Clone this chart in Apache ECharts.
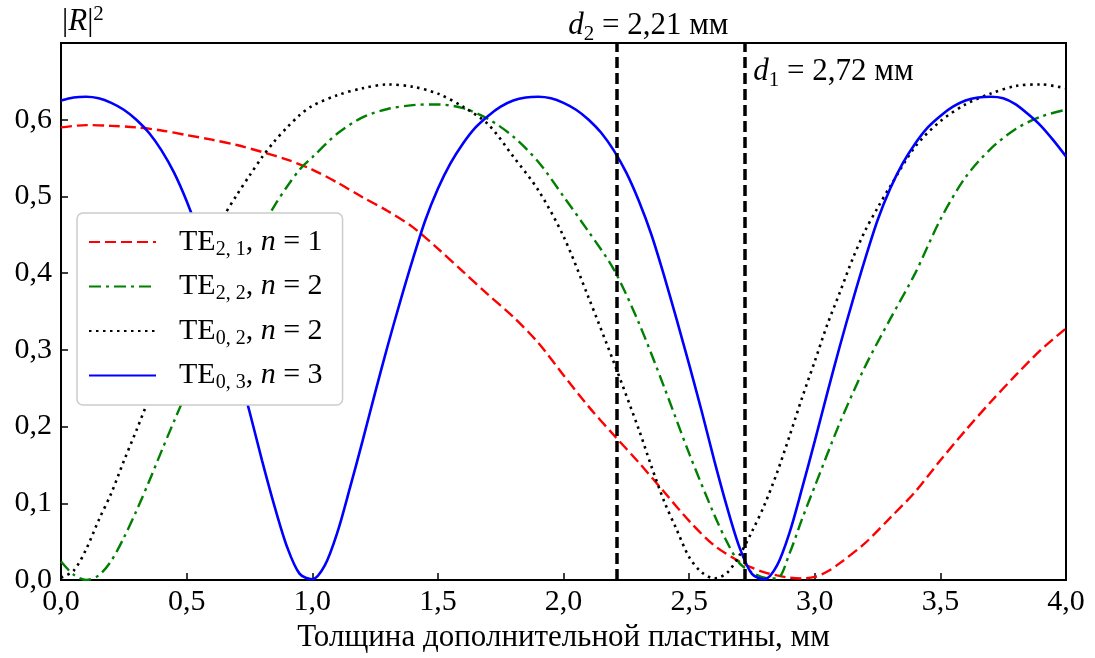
<!DOCTYPE html>
<html><head><meta charset="utf-8">
<script src="https://cdn.jsdelivr.net/npm/echarts@6/dist/echarts.min.js"></script>
<style>html,body{margin:0;padding:0;background:#fff}#c{width:1095px;height:658px}</style>
</head><body><div id="c"></div>
<script>
// ---- data ----
var redX = [0,0.1,0.2,0.3,0.4,0.5,0.6,0.7,0.8,0.9,1.0,1.1,1.2,1.3,1.4,1.5,1.6,1.7,1.8,1.9,2.0,2.1,2.2,2.3,2.4,2.5,2.6,2.7,2.75,2.8,2.85,2.9,2.95,3.0,3.05,3.1,3.2,3.3,3.4,3.5,3.6,3.7,3.8,3.9,4.0];
var redY = [0.590,0.593,0.592,0.590,0.586,0.580,0.574,0.567,0.558,0.548,0.535,0.518,0.499,0.481,0.460,0.432,0.402,0.372,0.343,0.309,0.267,0.226,0.189,0.153,0.115,0.077,0.045,0.024,0.016,0.010,0.006,0.003,0.002,0.004,0.011,0.022,0.048,0.081,0.115,0.156,0.195,0.232,0.267,0.300,0.328];

var greenX = [0,0.05,0.1,0.15,0.2,0.25,0.3,0.35,0.4,0.45,0.5,0.55,0.6,0.65,0.7,0.75,0.8,0.85,0.9,0.95,1.0,1.1,1.2,1.3,1.4,1.5,1.6,1.7,1.8,1.9,2.0,2.1,2.2,2.3,2.4,2.5,2.6,2.65,2.7,2.75,2.8,2.85,2.9,2.95,3.0,3.1,3.2,3.3,3.4,3.5,3.6,3.7,3.8,3.9,4.0];
var greenY = [0.024,0.007,0.000,0.006,0.025,0.055,0.090,0.128,0.168,0.207,0.245,0.282,0.318,0.355,0.390,0.425,0.460,0.488,0.513,0.535,0.551,0.582,0.603,0.614,0.619,0.620,0.615,0.601,0.578,0.545,0.500,0.454,0.405,0.335,0.252,0.165,0.085,0.050,0.022,0.010,0.003,0.002,0.035,0.080,0.122,0.205,0.278,0.340,0.400,0.470,0.525,0.562,0.588,0.604,0.613];

var blackX = [0,0.05,0.1,0.15,0.2,0.25,0.3,0.35,0.4,0.45,0.5,0.55,0.6,0.65,0.7,0.75,0.8,0.85,0.9,0.95,1.0,1.1,1.2,1.3,1.4,1.5,1.6,1.7,1.8,1.9,2.0,2.1,2.2,2.3,2.35,2.4,2.45,2.5,2.55,2.6,2.65,2.7,2.75,2.8,2.85,2.9,2.95,3.0,3.05,3.1,3.15,3.2,3.25,3.3,3.4,3.5,3.6,3.7,3.8,3.9,4.0];
var blackY = [0.003,0.012,0.040,0.078,0.113,0.155,0.195,0.236,0.274,0.315,0.355,0.395,0.438,0.475,0.502,0.527,0.551,0.572,0.590,0.606,0.618,0.632,0.641,0.646,0.643,0.634,0.617,0.594,0.552,0.508,0.448,0.368,0.284,0.196,0.148,0.103,0.066,0.030,0.010,0.002,0.009,0.032,0.063,0.098,0.140,0.188,0.238,0.285,0.333,0.375,0.418,0.455,0.485,0.513,0.565,0.598,0.620,0.634,0.644,0.646,0.641];

var blueX = [0,0.05,0.1,0.15,0.2,0.25,0.3,0.35,0.4,0.45,0.5,0.55,0.6,0.65,0.7,0.75,0.8,0.85,0.9,0.95,1.0,1.05,1.1,1.15,1.2,1.25,1.3,1.35,1.4,1.45,1.5,1.55,1.6,1.65,1.7,1.75,1.8,1.85,1.9,1.95,2.0,2.05,2.1,2.15,2.2,2.25,2.3,2.35,2.4,2.45,2.5,2.55,2.6,2.65,2.7,2.75,2.8,2.85,2.9,2.95,3.0,3.05,3.1,3.15,3.2,3.25,3.3,3.35,3.4,3.45,3.5,3.55,3.6,3.65,3.7,3.75,3.8,3.85,3.9,3.95,4.0];
var blueY = [0.625,0.629,0.630,0.628,0.622,0.613,0.600,0.583,0.560,0.531,0.494,0.450,0.397,0.340,0.281,0.220,0.156,0.096,0.043,0.008,0.001,0.019,0.062,0.120,0.181,0.244,0.305,0.363,0.418,0.469,0.510,0.543,0.569,0.590,0.605,0.617,0.625,0.629,0.630,0.628,0.622,0.613,0.600,0.583,0.560,0.531,0.494,0.450,0.397,0.340,0.281,0.220,0.156,0.096,0.043,0.008,0.001,0.019,0.062,0.120,0.181,0.244,0.305,0.363,0.418,0.469,0.510,0.543,0.569,0.590,0.605,0.617,0.625,0.629,0.630,0.628,0.620,0.607,0.592,0.573,0.552];

var modeSubs = ['2, 1', '2, 2', '0, 2', '0, 3'];
var modeN = ['1', '2', '2', '3'];
var seriesNames = ['TE21', 'TE22', 'TE02', 'TE03'];
var dValues = [2.21, 2.72];
var dSubs = ['2', '1'];
var dTexts = ['2,21 мм', '2,72 мм'];
var xTicks = [0, 4, 0.5];
var yTicks = [0, 0.7, 0.1];

var FONT = 'Liberation Serif';
function zip(a, b) { return a.map(function (v, i) { return [v, b[i]]; }); }
function comma(v) { return v.toFixed(1).replace('.', ','); }

var legendText = {};
seriesNames.forEach(function (n, i) {
  legendText[n] = '{t|TE}{s|' + modeSubs[i] + '}{m|, }{i|n}{m| = ' + modeN[i] + '}';
});

function dLabel(i, offs) {
  return {
    show: true, position: 'end', distance: 0, offset: offs,
    formatter: '{i|d}{s|' + dSubs[i] + '}{m| = ' + dTexts[i] + '}',
    color: '#000', fontFamily: FONT,
    rich: {
      m: { fontFamily: FONT, fontSize: 31, lineHeight: 38, color: '#000' },
      i: { fontFamily: FONT, fontSize: 31, lineHeight: 38, fontStyle: 'italic', color: '#000' },
      s: { fontFamily: FONT, fontSize: 21, lineHeight: 21, verticalAlign: 'bottom', color: '#000' }
    }
  };
}

var chart = echarts.init(document.getElementById('c'), null, { renderer: 'canvas' });
chart.setOption({
  animation: false,
  backgroundColor: '#fff',
  grid: { left: 61, right: 29, top: 43, bottom: 78, show: true, borderColor: '#000', borderWidth: 2, backgroundColor: 'transparent' },
  xAxis: {
    type: 'value', min: xTicks[0], max: xTicks[1], interval: xTicks[2],
    name: 'Толщина дополнительной пластины, мм', nameLocation: 'middle', nameGap: 42,
    nameTextStyle: { fontFamily: FONT, fontSize: 31, color: '#000' },
    axisLine: { show: true, lineStyle: { color: '#000', width: 2 } },
    axisTick: { show: true, inside: true, length: 7, lineStyle: { color: '#000', width: 1.5 } },
    axisLabel: { fontFamily: FONT, fontSize: 30, color: '#000', margin: 7, formatter: function (v) { return comma(v); } },
    splitLine: { show: false }
  },
  yAxis: {
    type: 'value', min: yTicks[0], max: yTicks[1], interval: yTicks[2],
    name: '{m||}{i|R}{m||}{s|2}', nameLocation: 'end', nameGap: 3,
    nameTextStyle: {
      align: 'left', verticalAlign: 'bottom', padding: [0, 0, 0, 1],
      rich: {
        m: { fontFamily: FONT, fontSize: 31, lineHeight: 36, color: '#000' },
        i: { fontFamily: FONT, fontSize: 31, lineHeight: 36, fontStyle: 'italic', color: '#000' },
        s: { fontFamily: FONT, fontSize: 21, lineHeight: 21, verticalAlign: 'top', color: '#000' }
      }
    },
    axisLine: { show: true, lineStyle: { color: '#000', width: 2 } },
    axisTick: { show: true, inside: true, length: 7, lineStyle: { color: '#000', width: 1.5 } },
    axisLabel: { fontFamily: FONT, fontSize: 30, color: '#000', margin: 9,
      formatter: function (v) { return v > 0.65 ? '' : comma(v); } },
    splitLine: { show: false }
  },
  legend: {
    orient: 'vertical', left: 77, top: 213,
    padding: [14, 20, 12, 11], itemGap: 12, itemWidth: 67, itemHeight: 14,
    backgroundColor: '#fff', borderColor: '#cccccc', borderWidth: 1.5, borderRadius: 6,
    itemStyle: { opacity: 0 },
    data: seriesNames,
    formatter: function (n) { return legendText[n]; },
    textStyle: {
      fontFamily: FONT, fontSize: 30, color: '#000',
      rich: {
        t: { fontFamily: FONT, fontSize: 30, lineHeight: 35, color: '#000', padding: [0, 0, 0, 18] },
        m: { fontFamily: FONT, fontSize: 30, lineHeight: 35, color: '#000' },
        i: { fontFamily: FONT, fontSize: 30, lineHeight: 35, fontStyle: 'italic', color: '#000' },
        s: { fontFamily: FONT, fontSize: 20, lineHeight: 20, verticalAlign: 'bottom', color: '#000' }
      }
    }
  },
  series: [
    { name: seriesNames[0], type: 'line', data: zip(redX, redY), symbol: 'none', smooth: 0.3, z: 3,
      lineStyle: { color: '#ff0000', width: 2.4, type: [11, 5] }, itemStyle: { color: '#ff0000' },
      markLine: {
        silent: true, symbol: 'none', animation: false,
        lineStyle: { color: '#000', width: 3.5, type: [11, 5] },
        data: [
          { xAxis: dValues[0], label: dLabel(0, [32, 2]) },
          { xAxis: dValues[1], label: dLabel(1, [89, 48]) }
        ]
      }
    },
    { name: seriesNames[1], type: 'line', data: zip(greenX, greenY), symbol: 'none', smooth: 0.3, z: 3,
      lineStyle: { color: '#008000', width: 2.4, type: [12, 5, 3, 5] }, itemStyle: { color: '#008000' } },
    { name: seriesNames[2], type: 'line', data: zip(blackX, blackY), symbol: 'none', smooth: 0.3, z: 3,
      lineStyle: { color: '#000000', width: 2.6, type: [2.5, 4.5] }, itemStyle: { color: '#000000' } },
    { name: seriesNames[3], type: 'line', data: zip(blueX, blueY), symbol: 'none', smooth: 0.3, z: 3,
      lineStyle: { color: '#0000ff', width: 2.6 }, itemStyle: { color: '#0000ff' } }
  ]
});
</script></body></html>
